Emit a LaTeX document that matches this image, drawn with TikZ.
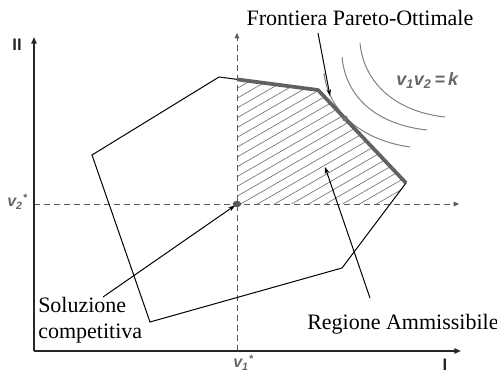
\documentclass[tikz,border=0pt]{standalone}
\usepackage{fontspec}
\setmainfont{Liberation Serif}
\setsansfont{Liberation Sans}
\usetikzlibrary{arrows.meta}
\begin{document}
\begin{tikzpicture}[x=0.75pt,y=-0.75pt,
  axis/.style={line width=1pt, draw=black!85, -{Triangle[length=5pt,width=4pt]}},
  guide/.style={dash pattern=on 4.5pt off 3pt, line width=0.7pt, draw=black!65, -{Triangle[length=4pt,width=3.5pt]}},
  region/.style={line width=0.75pt, draw=black, line join=miter},
  frontier/.style={line width=2.8pt, draw=black!62, line join=round},
  hatch/.style={line width=0.5pt, draw=black!55},
  iso/.style={line width=0.75pt, draw=black!50},
  pointer/.style={line width=0.75pt, draw=black, -{Stealth[length=5pt,width=3.5pt]}},
  lbl/.style={font=\fontsize{16.5}{18}\selectfont, inner sep=0pt},
  sv/.style={font=\sffamily\bfseries\itshape\fontsize{12}{13}\selectfont, text=black!60, inner sep=0pt},
  ax/.style={font=\sffamily\bfseries\fontsize{12.5}{13}\selectfont, text=black!85, inner sep=0pt},
]
\useasboundingbox (0,0) rectangle (497,374);
% key points
\coordinate (O) at (34,351);
\coordinate (Ytip) at (34,37);
\coordinate (Xtip) at (461,351);
\coordinate (Vb) at (237,351);
\coordinate (Vt) at (237,33);
\coordinate (Hl) at (34,204);
\coordinate (Hr) at (459,204);
\coordinate (P1) at (219,77);
\coordinate (P2) at (318,90);
\coordinate (P3) at (406,183);
\coordinate (P4) at (342,268);
\coordinate (P5) at (150,322);
\coordinate (P6) at (92,155);
\coordinate (F0) at (237,79.4);
\coordinate (Q) at (390,204);
\coordinate (S) at (237,204);
\coordinate (T) at (345,118.5);
% hatching
\begin{scope}
  \clip (F0) -- (P2) -- (P3) -- (Q) -- (S) -- cycle;
  \foreach \i in {0,...,24}
    \draw[hatch] (230,{88.5+9.8*\i+4.04}) -- (410,{88.5+9.8*\i-99.8});
\end{scope}
% guides
\draw[guide] (Vb) -- (Vt);
\draw[guide] (Hl) -- (Hr);
% axes
\draw[axis] (O) -- (Ytip);
\draw[axis] (O) -- (Xtip);
% region
\draw[region] (P1) -- (P2) -- (P3) -- (P4) -- (P5) -- (P6) -- cycle;
% iso curves
\draw[iso] (324,73) .. controls (328,110) and (360,140) .. (410,147);
\draw[iso] (342,57) .. controls (346,100) and (380,125) .. (427,130);
\draw[iso] (360,43) .. controls (364,85) and (398,112) .. (445,117);
% frontier
\draw[frontier] (F0) -- (P2) -- (P3);
\fill[black!55] (T) circle (2.2pt);
\fill[black!65] (S) ellipse (3.2pt and 2.4pt);
% labels
\node[lbl, anchor=base] (fr) at (360,26) {Frontiera Pareto-Ottimale};
\node[lbl, anchor=base west] (ra) at (307,330) {Regione Ammissibile};
\node[lbl, anchor=base west] (so) at (38,313) {Soluzione};
\node[lbl, anchor=base west] (co) at (38,339) {competitiva};
\node[sv, anchor=base west, font=\sffamily\bfseries\itshape\fontsize{13.5}{14}\selectfont] (k) at (396,86) {v\textsubscript{1}v\textsubscript{2}\,=\,k};
\node[sv, anchor=base west] (v2) at (7,207) {v\textsubscript{2}\textsuperscript{*}};
\node[sv, anchor=base west] (v1) at (233,368) {v\textsubscript{1}\textsuperscript{*}};
\node[ax, anchor=base] (ii) at (17,51) {II};
\node[ax, anchor=base] (i) at (445,371) {I};
% pointers
\coordinate (frs) at (318,33);
\coordinate (fre) at (330,96);
\coordinate (ras) at (370,298);
\coordinate (rae) at (325,167);
\coordinate (sos) at (103,297);
\coordinate (soe) at (235,205.5);
\draw[pointer] (frs) -- (fre);
\draw[pointer] (ras) -- (rae);
\draw[pointer] (sos) -- (soe);
\end{tikzpicture}
\end{document}
